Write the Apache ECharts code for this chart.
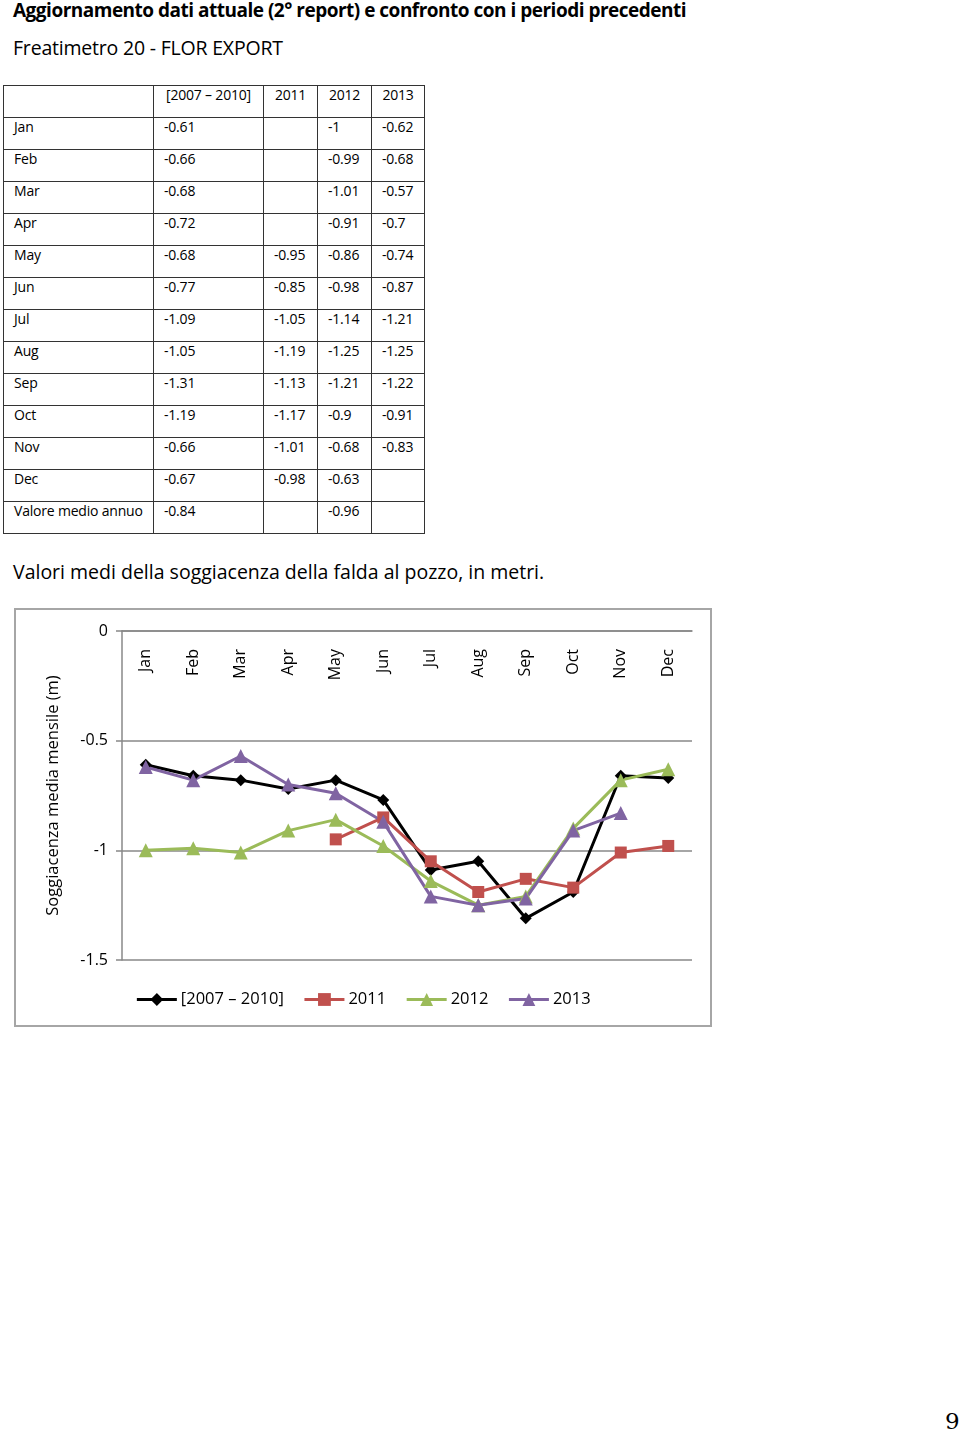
<!DOCTYPE html>
<html>
<head>
<meta charset="utf-8">
<script src="https://cdn.jsdelivr.net/npm/echarts@6/dist/echarts.min.js"></script>
<style>
  html, body { margin:0; padding:0; background:#fff; }
  body { width:960px; height:1434px; position:relative; font-family:"Open Sans", "Noto Sans", sans-serif; color:#000; overflow:hidden; }
  .t { position:absolute; white-space:nowrap; }
  #title { left:13px; top:-3px; font-size:19px; font-weight:bold; letter-spacing:-0.5px; }
  #sub { left:13px; top:34px; font-size:19.5px; letter-spacing:-0.2px; }
  #cap { left:13px; top:558px; font-size:19.5px; letter-spacing:0px; }
  #pg { left:945px; top:1408px; font-size:23px; font-family:"DejaVu Serif","Liberation Serif",serif; }
  table { position:absolute; left:3px; top:85px; border-collapse:collapse; font-size:14px; letter-spacing:-0.2px; }
  td { border:1.5px solid #333; height:29px; padding:0 0 0 10px; vertical-align:top; box-sizing:border-box; line-height:18px; }
  tr.h td { text-align:center; padding-left:0; }
  #chartbox { position:absolute; left:14px; top:608px; width:698px; height:419px; box-sizing:border-box; border:2px solid #a6a6a6; }
  #chart { position:absolute; left:-2px; top:-2px; width:698px; height:419px; }
</style>
</head>
<body>
<div class="t" id="title">Aggiornamento dati attuale (2° report) e confronto con i periodi precedenti</div>
<div class="t" id="sub">Freatimetro 20 - FLOR EXPORT</div>
<table id="tbl"></table>
<div class="t" id="cap">Valori medi della soggiacenza della falda al pozzo, in metri.</div>
<div id="chartbox"><div id="chart"></div></div>
<div class="t" id="pg">9</div>
<script>
const months = ['Jan','Feb','Mar','Apr','May','Jun','Jul','Aug','Sep','Oct','Nov','Dec'];
const seriesNames = ['[2007 – 2010]','2011','2012','2013'];
const s2007_2010 = [-0.61,-0.66,-0.68,-0.72,-0.68,-0.77,-1.09,-1.05,-1.31,-1.19,-0.66,-0.67];
const s2011 = [null,null,null,null,-0.95,-0.85,-1.05,-1.19,-1.13,-1.17,-1.01,-0.98];
const s2012 = [-1,-0.99,-1.01,-0.91,-0.86,-0.98,-1.14,-1.25,-1.21,-0.9,-0.68,-0.63];
const s2013 = [-0.62,-0.68,-0.57,-0.7,-0.74,-0.87,-1.21,-1.25,-1.22,-0.91,-0.83,null];
const annualLabel = 'Valore medio annuo';
const annualMeans = [-0.84, null, -0.96, null];
const yTicks = [0, -0.5, -1, -1.5];

// Table
const colW = [150,110,54,54,53];
const tbl = document.getElementById('tbl');
function addRow(cells, cls) {
  const tr = document.createElement('tr');
  if (cls) tr.className = cls;
  cells.forEach((c, i) => {
    const td = document.createElement('td');
    td.style.width = colW[i] + 'px';
    td.style.height = '32px';
    td.textContent = (c === null || c === undefined) ? '' : String(c);
    tr.appendChild(td);
  });
  tbl.appendChild(tr);
}
addRow([''].concat(seriesNames), 'h');
const all = [s2007_2010, s2011, s2012, s2013];
months.forEach((m, i) => addRow([m].concat(all.map(s => s[i]))));
addRow([annualLabel].concat(annualMeans));

// Chart
const colors = ['#000000','#C0504D','#9BBB59','#8064A2'];
const symbols = ['diamond','rect','triangle','triangle'];
const sizes = [12,12,14,14];
const chart = echarts.init(document.getElementById('chart'), null, {renderer:'canvas'});
chart.setOption({
  animation:false,
  textStyle:{fontFamily:'"Open Sans", "Noto Sans", sans-serif'},
  grid:{left:108, top:23, width:570, height:329, containLabel:false},
  legend:{
    bottom:14, left:'center', itemGap:19, itemWidth:40, itemHeight:16,
    lineStyle:{width:3},
    textStyle:{fontSize:16.5, color:'#000', padding:[0,0,0,-1]},
    data: seriesNames
  },
  xAxis:{
    type:'category', data:months, position:'top', boundaryGap:true,
    axisLine:{lineStyle:{color:'#888', width:1.5}},
    axisTick:{inside:true, length:5, lineStyle:{color:'#888', width:1.5}},
    axisLabel:{inside:true, rotate:90, margin:18, fontSize:16, color:'#000'},
    splitLine:{show:false}
  },
  yAxis:{
    type:'value', min:-1.5, max:0, interval:0.5,
    axisLine:{show:true, lineStyle:{color:'#888', width:1.5}},
    axisTick:{show:true, length:6, lineStyle:{color:'#888', width:1.5}},
    axisLabel:{fontSize:16, color:'#000', margin:14},
    splitLine:{show:true, lineStyle:{color:'#888', width:1.5}},
    name:'Soggiacenza media mensile (m)', nameLocation:'middle', nameGap:60, nameRotate:90,
    nameTextStyle:{fontSize:16.5, color:'#000'}
  },
  series: all.map((d,i)=>({
    name:seriesNames[i], type:'line', data:d, symbol:symbols[i], symbolSize:sizes[i],
    lineStyle:{color:colors[i], width:3}, itemStyle:{color:colors[i]}, connectNulls:false
  }))
});
</script>
</body>
</html>
